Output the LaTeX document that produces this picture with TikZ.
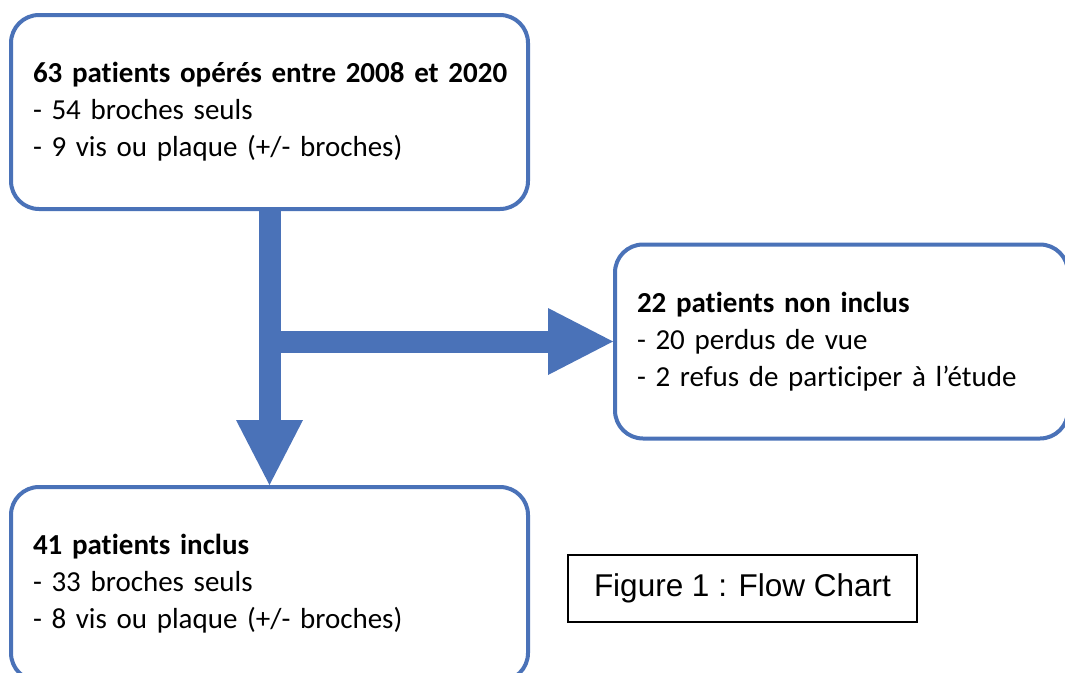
\documentclass[tikz,border=0pt]{standalone}
\usepackage{fontspec}
\setmainfont{Carlito}[Ligatures=NoCommon]
\newfontfamily\arialfont{Liberation Sans}
\usetikzlibrary{arrows.meta}
\definecolor{boxblue}{RGB}{74,114,184}
\begin{document}
\begin{tikzpicture}[x=1pt,y=-1pt,
  flowbox/.style={draw=boxblue, line width=4pt, rounded corners=28pt, fill=white,
    align=left, inner xsep=22pt, inner ysep=0pt, minimum height=194pt,
    font=\fontsize{29}{37}\selectfont},
  flowarrow/.style={draw=boxblue, line width=22pt,
    -{Triangle[length=65pt,width=67pt,line width=0pt]}},
  captionbox/.style={draw=black, line width=1.2pt, minimum width=349pt, minimum height=67pt,
    inner sep=0pt, font=\arialfont\fontsize{31.5}{38}\selectfont}]
\useasboundingbox (0,0) rectangle (1065,672);
\clip (0,0) rectangle (1065,672);
\node[flowbox, text width=473pt, minimum width=517pt] (top) at (269.5,112)
  {\mbox{\textbf{63 patients opérés entre 2008 et 2020}}\\\mbox{- 54 broches seuls}\\\mbox{- 9 vis ou plaque (+/- broches)}};
\node[flowbox, text width=409pt, minimum width=453pt] (right) at (841.5,341.5)
  {\mbox{\textbf{22 patients non inclus}}\\\mbox{- 20 perdus de vue}\\\mbox{- 2 refus de participer à l’étude}};
\node[flowbox, text width=473pt, minimum width=517pt] (bot) at (269.5,584)
  {\mbox{\textbf{41 patients inclus}}\\\mbox{- 33 broches seuls}\\\mbox{- 8 vis ou plaque (+/- broches)}};
\node[captionbox] (cap) at (742.5,588.5) {Figure 1 : Flow Chart};
\coordinate (junc) at (top.south |- right.west);
\draw[flowarrow] (top.south) -- (bot.north);
\draw[flowarrow] (junc) -- (right.west);
\end{tikzpicture}
\end{document}
